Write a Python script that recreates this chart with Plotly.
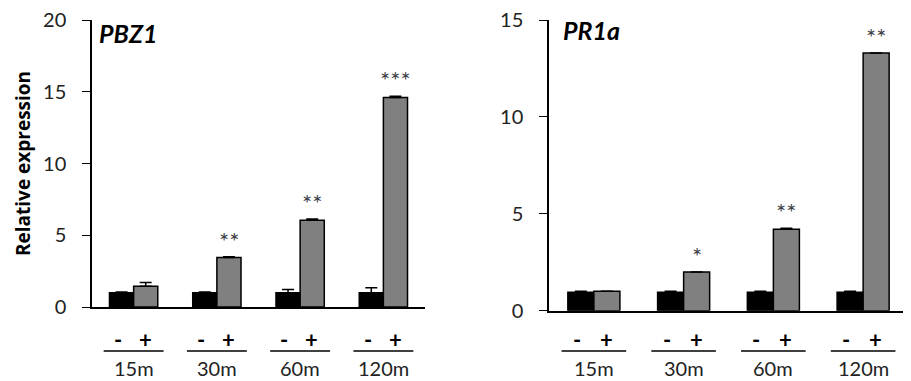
import plotly.graph_objects as go

# ---- data ----
times = ["15m", "30m", "60m", "120m"]
treat_labels = ["-", "+"]

pbz1_minus = [1.0, 1.0, 1.0, 1.0]
pbz1_minus_err = [0.05, 0.05, 0.22, 0.35]
pbz1_plus = [1.45, 3.45, 6.05, 14.6]
pbz1_plus_err = [0.25, 0.05, 0.08, 0.08]
pbz1_sig = ["", "**", "**", "***"]

pr1a_minus = [0.95, 0.95, 0.95, 0.95]
pr1a_minus_err = [0.05, 0.05, 0.05, 0.05]
pr1a_plus = [1.0, 2.0, 4.2, 13.3]
pr1a_plus_err = [0.0, 0.0, 0.05, 0.0]
pr1a_sig = ["", "*", "**", "**"]

FONT = "Lato"
TXT = "#222222"
# page body has an 8px margin, so the figure is drawn at (8, 8)
OX, OY = 8, 8
W, H = 911 - OX, 381 - OY

def px(x):
    return (x - OX) / W

def py(y):
    return 1 - (y - OY) / H

xpos = list(range(len(times)))

fig = go.Figure()

def add_panel(minus, minus_err, plus, plus_err, xa, ya):
    fig.add_trace(go.Bar(
        x=xpos, y=minus, xaxis=xa, yaxis=ya, offsetgroup="a",
        marker=dict(color="#000000", line=dict(color="#000000", width=1.5)),
        error_y=dict(type="data", array=minus_err, arrayminus=[0]*len(minus),
                     symmetric=False, color="#000000", thickness=1.5, width=6),
        showlegend=False))
    fig.add_trace(go.Bar(
        x=xpos, y=plus, xaxis=xa, yaxis=ya, offsetgroup="b",
        marker=dict(color="#808080", line=dict(color="#000000", width=1.5)),
        error_y=dict(type="data", array=plus_err, arrayminus=[0]*len(plus),
                     symmetric=False, color="#000000", thickness=1.5, width=6),
        showlegend=False))

add_panel(pbz1_minus, pbz1_minus_err, pbz1_plus, pbz1_plus_err, "x", "y")
add_panel(pr1a_minus, pr1a_minus_err, pr1a_plus, pr1a_plus_err, "x2", "y2")

axis_x = dict(range=[-0.5, 3.5], showline=True, linecolor="#000000", linewidth=1.5,
              showticklabels=False, ticks="", showgrid=False, zeroline=False,
              fixedrange=True, automargin=False)
axis_y = dict(showline=True, linecolor="#000000", linewidth=1.5, ticks="outside",
              ticklen=8, tickwidth=1.2, tickcolor="#000000", showgrid=False, zeroline=False,
              tickfont=dict(family=FONT, size=20, color=TXT), fixedrange=True,
              automargin=False, ticklabelstandoff=12, ticklabeloverflow="allow")

fig.update_layout(
    width=W, height=H,
    margin=dict(l=0, r=0, t=0, b=0, autoexpand=False),
    paper_bgcolor="white", plot_bgcolor="white",
    barmode="group", bargap=0.42, bargroupgap=0,
    xaxis=dict(axis_x, domain=[px(92), px(425)], anchor="y"),
    yaxis=dict(axis_y, domain=[py(307), py(20)], range=[0, 20], dtick=5, anchor="x"),
    xaxis2=dict(axis_x, domain=[px(549), px(908)], anchor="y2"),
    yaxis2=dict(axis_y, domain=[py(310.7), py(20)], range=[0, 15], dtick=5, anchor="x2"),
)

ann = []
shapes = []

def panel_text(plus, plus_err, sig, xr, title, title_x, title_y):
    for i, t in enumerate(times):
        if sig[i]:
            ann.append(dict(x=i + 0.145, y=plus[i] + plus_err[i], xref=xr, yref=xr.replace("x", "y"),
                            text=sig[i], showarrow=False, yanchor="bottom", xanchor="center", yshift=0,
                            font=dict(family=FONT, size=24, color="#404048")))
        ann.append(dict(x=i - 0.19, y=py(339), xref=xr, yref="paper", text="<b>" + treat_labels[0] + "</b>",
                        showarrow=False, xanchor="center", yanchor="middle",
                        font=dict(family=FONT, size=22, color="#000000")))
        ann.append(dict(x=i + 0.14, y=py(339), xref=xr, yref="paper", text="<b>" + treat_labels[1] + "</b>",
                        showarrow=False, xanchor="center", yanchor="middle",
                        font=dict(family=FONT, size=22, color="#000000")))
        ann.append(dict(x=i, y=py(368), xref=xr, yref="paper", text=t,
                        showarrow=False, xanchor="center", yanchor="middle",
                        font=dict(family=FONT, size=20, color=TXT)))
        shapes.append(dict(type="line", xref=xr, yref="paper", x0=i - 0.36, x1=i + 0.36,
                           y0=py(351), y1=py(351), line=dict(color="#000000", width=1.5)))
    ann.append(dict(x=px(title_x), y=py(title_y), xref="paper", yref="paper",
                    text="<b><i>" + title + "</i></b>", showarrow=False, xanchor="left", yanchor="middle",
                    font=dict(family=FONT, size=25, color="#000000")))

panel_text(pbz1_plus, pbz1_plus_err, pbz1_sig, "x", "PBZ1", 97, 33)
panel_text(pr1a_plus, pr1a_plus_err, pr1a_sig, "x2", "PR1a", 561, 30)

ann.append(dict(x=px(23), y=py(164), xref="paper", yref="paper", text="<b>Relative expression</b>",
                textangle=-90, showarrow=False, xanchor="center", yanchor="middle",
                font=dict(family="Open Sans", size=19, color="#000000")))

fig.update_layout(annotations=ann, shapes=shapes)
fig.write_html("out.html")
